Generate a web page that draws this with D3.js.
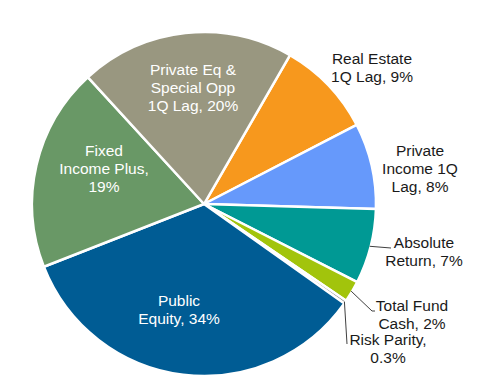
<!DOCTYPE html>
<html><head><meta charset="utf-8">
<script src="https://cdn.jsdelivr.net/npm/d3@7"></script>
<style>body{margin:0;background:#fff}text{font-family:"Liberation Sans",Arial,sans-serif;font-size:15.5px}</style>
</head><body><svg id="c" width="478" height="392"></svg>
<script>
const categories = ["Real Estate 1Q Lag","Private Income 1Q Lag","Absolute Return","Total Fund Cash","Risk Parity","Public Equity","Fixed Income Plus","Private Eq & Special Opp 1Q Lag"];
const values = [9, 8, 7, 2, 0.3, 34, 19, 20];
const labelLines = [
  ["Real Estate","1Q Lag, 9%"],
  ["Private","Income 1Q","Lag, 8%"],
  ["Absolute","Return, 7%"],
  ["Total Fund","Cash, 2%"],
  ["Risk Parity,","0.3%"],
  ["Public","Equity, 34%"],
  ["Fixed","Income Plus,","19%"],
  ["Private Eq &","Special Opp","1Q Lag, 20%"]
];
const colors = ["#f7981d","#6699fb","#009994","#a2c40c","#8a8a8a","#005c94","#699866","#999780"];

// layout (label centres relative to pie centre, first-line baseline)
const layout = [
  {x:168,y:-140,inside:false},
  {x:216,y:-48,inside:false},
  {x:220,y:44,inside:false,leader:[[187,44]]},
  {x:208,y:107,inside:false,leader:[[168,107],[171,107]]},
  {x:184,y:141,inside:false,leader:[[143,140]]},
  {x:-25,y:102,inside:true},
  {x:-100,y:-48,inside:true},
  {x:-11,y:-129,inside:true}
];

const svg = d3.select("#c");
const cx = 204, cy = 204, R = 172;
const g = svg.append("g").attr("transform",`translate(${cx},${cy})`);
const start = 30*Math.PI/180;
const pie = d3.pie().sort(null).value(d=>d).startAngle(start).endAngle(start+2*Math.PI);
const arcs = pie(values);
const arc = d3.arc().innerRadius(0).outerRadius(R);

g.selectAll("path.s").data(arcs).join("path").attr("class","s")
  .attr("d",arc).attr("fill",(d,i)=>colors[i])
  .attr("stroke","#fff").attr("stroke-width",2.5).attr("stroke-linejoin","round");

const lh = 18.2;
arcs.forEach((a,i)=>{
  const L = layout[i];
  if(L.leader){
    const m=(a.startAngle+a.endAngle)/2;
    const p0=[Math.sin(m)*(R-1), -Math.cos(m)*(R-1)];
    const pts=[p0].concat(L.leader);
    g.append("path").attr("d",d3.line()(pts)).attr("fill","none").attr("stroke","#404040").attr("stroke-width",1);
  }
  const t = g.append("text").attr("text-anchor","middle")
    .attr("fill", L.inside ? "#ffffff" : "#1a1a1a");
  labelLines[i].forEach((ln,k)=>{
    t.append("tspan").attr("x",L.x).attr("y",L.y+k*lh).text(ln);
  });
});
</script></body></html>
